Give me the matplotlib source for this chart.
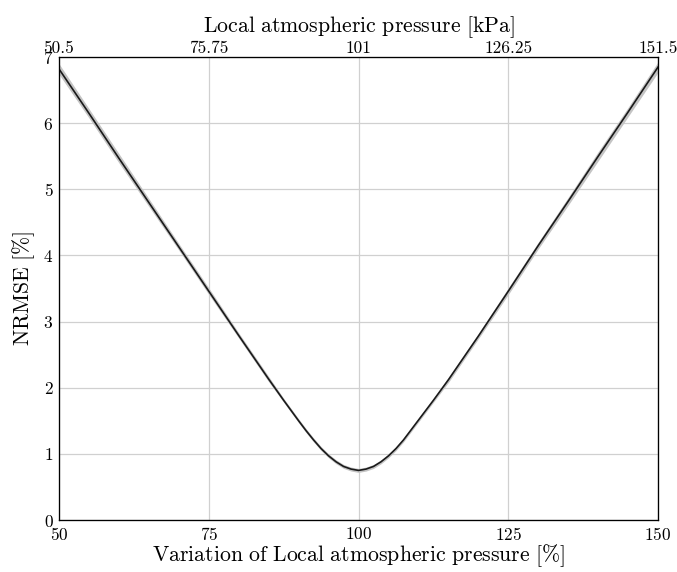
import numpy as np
import matplotlib
matplotlib.use("Agg")
import matplotlib.pyplot as plt

plt.rcParams['font.family'] = 'serif'
plt.rcParams['font.serif'] = ['cmr10', 'DejaVu Serif']
plt.rcParams['mathtext.fontset'] = 'cm'
plt.rcParams['axes.formatter.use_mathtext'] = True

# variation of local atmospheric pressure [%] and resulting NRMSE [%]
variation = [50, 55, 60, 65, 70, 75, 80, 85, 87.5, 90, 91.25, 92.5, 93.75, 95,
             96.25, 97.5, 98.75, 100, 101.25, 102.5, 103.75, 105, 106.25, 107.5,
             108.75, 110, 112.5, 115, 120, 125, 130, 135, 140, 145, 150]
nrmse = [6.82, 6.15, 5.47, 4.80, 4.13, 3.46, 2.79, 2.13, 1.81, 1.50, 1.35, 1.21,
         1.08, 0.97, 0.88, 0.81, 0.77, 0.75, 0.77, 0.81, 0.88, 0.97, 1.08, 1.21,
         1.36, 1.51, 1.81, 2.12, 2.78, 3.46, 4.15, 4.82, 5.50, 6.17, 6.85]
# half width of the grey band around the curve
band = [0.08, 0.07, 0.07, 0.06, 0.05, 0.05, 0.04, 0.04, 0.03, 0.03, 0.03, 0.03,
        0.03, 0.03, 0.03, 0.03, 0.03, 0.03, 0.03, 0.03, 0.03, 0.03, 0.03, 0.03,
        0.03, 0.03, 0.03, 0.04, 0.04, 0.05, 0.05, 0.06, 0.07, 0.07, 0.08]

bottom_ticks = [50, 75, 100, 125, 150]
top_ticks = [50.5, 75.75, 101, 126.25, 151.5]
top_labels = ['50.5', '75.75', '101', '126.25', '151.5']
y_ticks = [0, 1, 2, 3, 4, 5, 6, 7]

x = np.array(variation)
y = np.array(nrmse)
b = np.array(band)

fig = plt.figure(figsize=(6.77, 5.72), dpi=100)
ax = fig.add_axes([0.0871, 0.0909, 0.885, 0.8094])

ax.fill_between(x, y - b, y + b, color='#c4c4c4', lw=0, zorder=2)
ax.plot(x, y, color='#1a1a1a', lw=1.2, zorder=3)

ax.set_xlim(50, 150)
ax.set_ylim(0, 7)
ax.set_xticks(bottom_ticks)
ax.set_yticks(y_ticks)
ax.grid(True, color='#d0d0d0', lw=0.9)
ax.set_axisbelow(True)
ax.tick_params(axis='x', direction='in', length=0, labelsize=12.5, pad=4)
ax.tick_params(axis='y', direction='in', length=0, labelsize=12.5, pad=4)
for s in ax.spines.values():
    s.set_linewidth(0.9)
    s.set_color('#222222')

ax.set_xlabel(r'$\mathrm{Variation\ of\ Local\ atmospheric\ pressure\ [\%]}$',
              fontsize=15.7, labelpad=0)
ax.set_ylabel(r'$\mathrm{NRMSE\ [\%]}$', fontsize=15.7, labelpad=4)

ax2 = ax.twiny()
ax2.set_xlim(50.5, 151.5)
ax2.set_xticks(top_ticks)
ax2.set_xticklabels(top_labels)
ax2.tick_params(direction='in', length=0, labelsize=12.5, pad=1)
ax2.set_xlabel(r'$\mathrm{Local\ atmospheric\ pressure\ [kPa]}$', fontsize=15.7, labelpad=6)

fig.savefig('out.png', dpi=100)
